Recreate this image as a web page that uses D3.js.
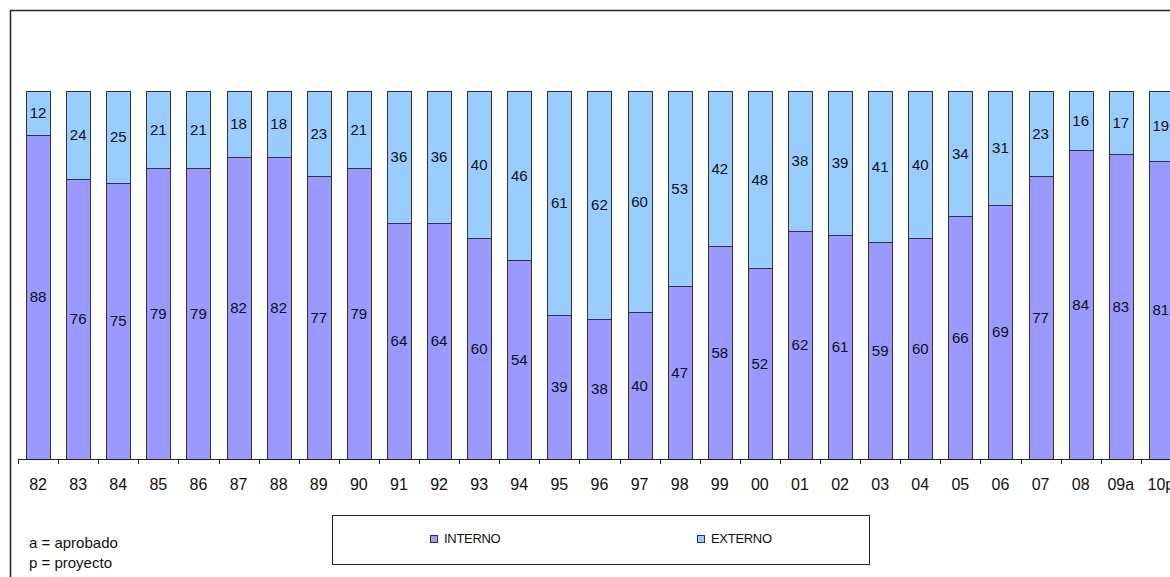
<!DOCTYPE html>
<html>
<head>
<meta charset="utf-8">
<script src="https://cdn.jsdelivr.net/npm/d3@7"></script>
<style>
  body { margin: 0; background: #fff; }
  svg { display: block; font-family: "Liberation Sans", Arial, sans-serif; }
</style>
</head>
<body>
<svg id="chart" width="1170" height="577"></svg>
<script>
var years = ['82','83','84','85','86','87','88','89','90','91','92','93','94','95','96','97','98','99',
             '00','01','02','03','04','05','06','07','08','09a','10p'];
var interno = [88,76,75,79,79,82,82,77,79,64,64,60,54,39,38,40,47,58,52,62,61,59,60,66,69,77,84,83,81];
var externo = [12,24,25,21,21,18,18,23,21,36,36,40,46,61,62,60,53,42,48,38,39,41,40,34,31,23,16,17,19];
var seriesNames = ['INTERNO','EXTERNO'];
var notes = ['a = aprobado','p = proyecto'];

var colors = {INTERNO:'#9999FF', EXTERNO:'#99CCFF'};
var plot = {left:18, top:91, bottom:459, step:40.1};

var svg = d3.select('#chart');

// outer chart frame
svg.append('rect')
    .attr('x',10.5).attr('y',10.5)
    .attr('width',1300).attr('height',700)
    .attr('fill','white')
    .attr('stroke','#222')
    .attr('stroke-width',1.5);

var x = d3.scaleBand()
    .domain(years)
    .range([plot.left, plot.left + plot.step*years.length])
    .paddingInner(0.4)
    .paddingOuter(0.2);

var y = d3.scaleLinear().domain([0,100]).range([plot.bottom, plot.top]);

var rows = years.map(function(yr,i){
    return {year:yr, INTERNO:interno[i], EXTERNO:externo[i]};
});
var stack = d3.stack().keys(seriesNames)(rows);

var layers = svg.selectAll('.layer')
    .data(stack)
    .join('g')
    .attr('class','layer')
    .attr('fill',d => colors[d.key]);

layers.selectAll('rect')
    .data(d => d)
    .join('rect')
    .attr('x',d => Math.round(x(d.data.year)) + 0.5)
    .attr('y',d => Math.round(y(d[1])) + 0.5)
    .attr('width',Math.round(x.bandwidth()))
    .attr('height',d => Math.round(y(d[0])) - Math.round(y(d[1])))
    .attr('stroke','#333')
    .attr('stroke-width',1);

layers.selectAll('text')
    .data(d => d)
    .join('text')
    .attr('x',d => x(d.data.year) + x.bandwidth()/2)
    .attr('y',d => (y(d[0]) + y(d[1]))/2)
    .attr('dy','0.35em')
    .attr('text-anchor','middle')
    .attr('fill','#111')
    .style('font-size','15px')
    .text(d => d[1] - d[0]);

// category axis along the bottom, ticks between categories
var axis = svg.append('g');
axis.append('line')
    .attr('x1',plot.left).attr('x2',1170)
    .attr('y1',plot.bottom + 0.5).attr('y2',plot.bottom + 0.5)
    .attr('stroke','#222');
axis.selectAll('.tick')
    .data(d3.range(years.length + 1))
    .join('line')
    .attr('class','tick')
    .attr('x1',i => Math.round(plot.left + i*plot.step) + 0.5)
    .attr('x2',i => Math.round(plot.left + i*plot.step) + 0.5)
    .attr('y1',plot.bottom)
    .attr('y2',plot.bottom + 5)
    .attr('stroke','#222');
axis.selectAll('.lbl')
    .data(years)
    .join('text')
    .attr('class','lbl')
    .attr('x',d => x(d) + x.bandwidth()/2)
    .attr('y',490)
    .attr('text-anchor','middle')
    .attr('fill','#111')
    .style('font-size','16px')
    .text(d => d);

// legend
var legend = svg.append('g');
legend.append('rect')
    .attr('x',332.5).attr('y',515.5)
    .attr('width',537).attr('height',49)
    .attr('fill','white')
    .attr('stroke','#222');
var legendX = [430, 697];
seriesNames.forEach(function(name,i){
    legend.append('rect')
        .attr('x',legendX[i] + 0.5).attr('y',535.5)
        .attr('width',7).attr('height',7)
        .attr('fill',colors[name])
        .attr('stroke','#333');
    legend.append('text')
        .attr('x',legendX[i] + 14)
        .attr('y',543)
        .attr('fill','#111')
        .style('font-size','13px')
        .style('letter-spacing','-0.3px')
        .text(name);
});

// notes
svg.selectAll('.note')
    .data(notes)
    .join('text')
    .attr('class','note')
    .attr('x',29)
    .attr('y',(d,i) => 548 + i*20)
    .attr('fill','#111')
    .style('font-size','15px')
    .text(d => d);
</script>
</body>
</html>
